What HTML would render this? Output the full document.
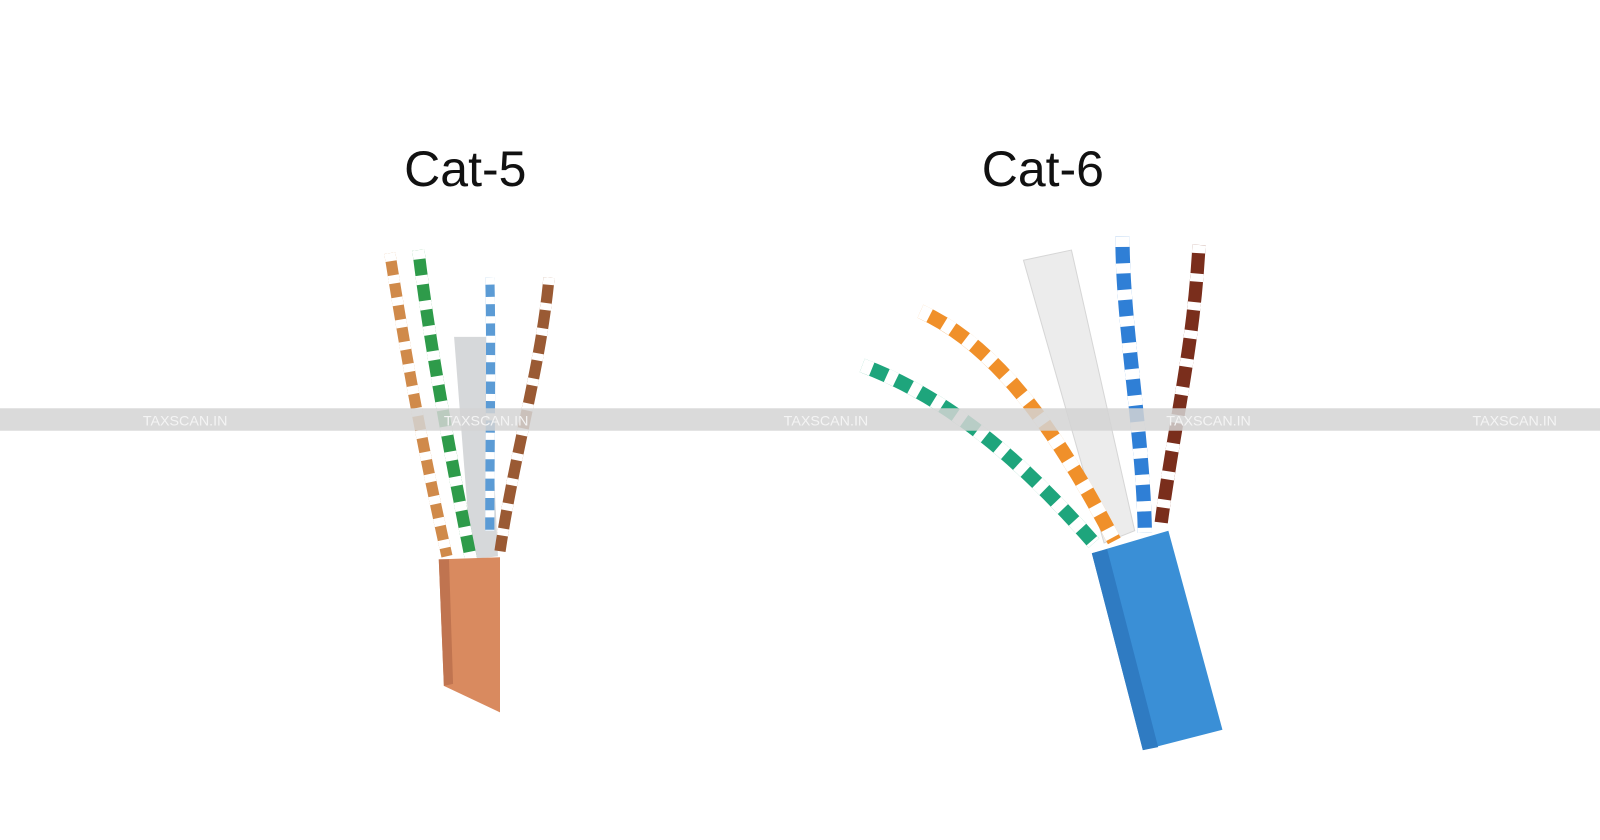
<!DOCTYPE html>
<html><head><meta charset="utf-8"><style>
html,body{margin:0;padding:0;background:#fff;width:1600px;height:840px;overflow:hidden}
svg{display:block}
</style></head><body>
<svg width="1600" height="840" viewBox="0 0 1568 823" preserveAspectRatio="none" xmlns="http://www.w3.org/2000/svg">
<rect width="1568" height="823" fill="#fff"/>
<text x="456" y="182" font-family="Liberation Sans, sans-serif" font-size="49" text-anchor="middle" fill="#111">Cat-5</text>
<text x="1022" y="182" font-family="Liberation Sans, sans-serif" font-size="49" text-anchor="middle" fill="#111">Cat-6</text>

<!-- Cat-5 -->
<polygon points="445,330 478,330 488,545 462,548" fill="#d6d8da"/>
<g fill="none" stroke-linecap="butt">
<path d="M382,248 C395,330 410,420 438,545" stroke="#d08a4a" stroke-width="11"/>
<path d="M382,248 C395,330 410,420 438,545" stroke="#fff" stroke-width="11" stroke-dasharray="8 14"/>
<path d="M410,245 C420,330 440,440 462,550" stroke="#2e9b4a" stroke-width="12"/>
<path d="M410,245 C420,330 440,440 462,550" stroke="#fff" stroke-width="12" stroke-dasharray="9 16"/>
<path d="M480,272 C482,340 480,420 480,520" stroke="#5b9bd5" stroke-width="9"/>
<path d="M480,272 C482,340 480,420 480,520" stroke="#fff" stroke-width="9" stroke-dasharray="7 12"/>
<path d="M538,272 C530,360 505,440 490,540" stroke="#9a5a34" stroke-width="11"/>
<path d="M538,272 C530,360 505,440 490,540" stroke="#fff" stroke-width="11" stroke-dasharray="7 18"/>
</g>
<polygon points="430,548 490,546 490,698 435,672" fill="#d98a5f"/>
<polygon points="430,548 440,548 444,670 435,672" fill="#c07450"/>

<!-- Cat-6 -->
<polygon points="1003,255 1050,245 1112,520 1082,532" fill="#ececec" stroke="#d6d6d6"/>
<g fill="none" stroke-linecap="butt">
<path d="M845,358 C930,390 1000,450 1072,532" stroke="#1ea57c" stroke-width="14"/>
<path d="M845,358 C930,390 1000,450 1072,532" stroke="#fff" stroke-width="14" stroke-dasharray="10 16"/>
<path d="M902,305 C980,340 1040,430 1092,530" stroke="#f0902a" stroke-width="14"/>
<path d="M902,305 C980,340 1040,430 1092,530" stroke="#fff" stroke-width="14" stroke-dasharray="10 16"/>
<path d="M1100,232 C1100,320 1120,420 1122,522" stroke="#2f7fd6" stroke-width="14"/>
<path d="M1100,232 C1100,320 1120,420 1122,522" stroke="#fff" stroke-width="14" stroke-dasharray="10 16"/>
<path d="M1175,240 C1170,340 1150,420 1138,512" stroke="#7a2e1c" stroke-width="13"/>
<path d="M1175,240 C1170,340 1150,420 1138,512" stroke="#fff" stroke-width="13" stroke-dasharray="8 20"/>
</g>
<polygon points="1070,542 1145,520 1198,715 1120,735" fill="#3a8fd6"/>
<polygon points="1070,542 1085,538 1135,732 1120,735" fill="#2f7bc2"/>

<!-- watermark band -->
<rect x="0" y="400" width="1568" height="22" fill="#d4d4d4" opacity="0.85"/>
<g font-family="Liberation Sans, sans-serif" font-size="14" fill="#f4f4f4">
<text x="140" y="417">TAXSCAN.IN</text>
<text x="435" y="417">TAXSCAN.IN</text>
<text x="768" y="417">TAXSCAN.IN</text>
<text x="1143" y="417">TAXSCAN.IN</text>
<text x="1443" y="417">TAXSCAN.IN</text>
</g>
</svg>
</body></html>
